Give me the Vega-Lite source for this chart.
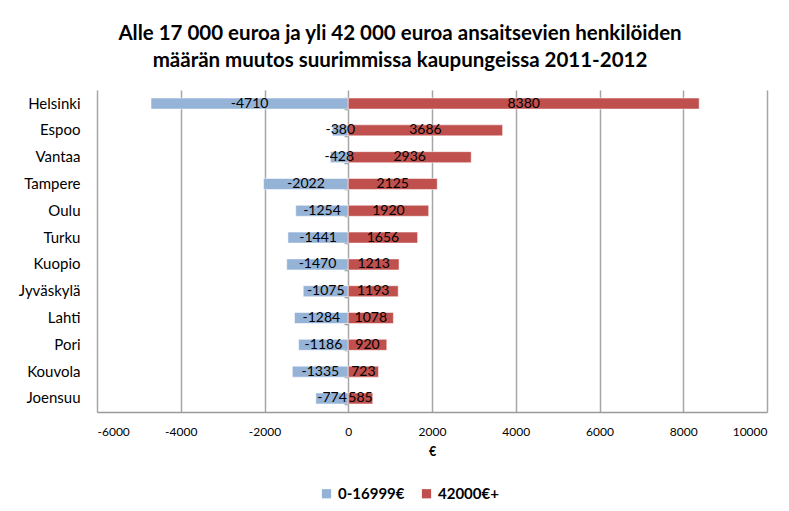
{
  "$schema": "https://vega.github.io/schema/vega-lite/v6.json",
  "width": 670,
  "height": 322,
  "autosize": {"type": "none"},
  "padding": {"left": 97, "top": 90, "right": 22, "bottom": 99},
  "background": "white",
  "config": {
    "font": "Lato",
    "view": {"stroke": null},
    "locale": {
      "number": {"decimal": ".", "thousands": "", "grouping": [3], "currency": ["", "€"], "minus": "-"}
    }
  },
  "title": {
    "text": ["Alle 17 000 euroa ja yli 42 000 euroa ansaitsevien  henkilöiden", "määrän muutos  suurimmissa  kaupungeissa  2011-2012"],
    "font": "Lato",
    "fontSize": 20.5,
    "fontWeight": "bold",
    "color": "#000000",
    "anchor": "middle",
    "dx": -32,
    "offset": 19,
    "lineHeight": 27
  },
  "data": {
    "values": [
      {"city": "Helsinki", "series": "0-16999€", "value": -4710},
      {"city": "Helsinki", "series": "42000€+", "value": 8380},
      {"city": "Espoo", "series": "0-16999€", "value": -380},
      {"city": "Espoo", "series": "42000€+", "value": 3686},
      {"city": "Vantaa", "series": "0-16999€", "value": -428},
      {"city": "Vantaa", "series": "42000€+", "value": 2936},
      {"city": "Tampere", "series": "0-16999€", "value": -2022},
      {"city": "Tampere", "series": "42000€+", "value": 2125},
      {"city": "Oulu", "series": "0-16999€", "value": -1254},
      {"city": "Oulu", "series": "42000€+", "value": 1920},
      {"city": "Turku", "series": "0-16999€", "value": -1441},
      {"city": "Turku", "series": "42000€+", "value": 1656},
      {"city": "Kuopio", "series": "0-16999€", "value": -1470},
      {"city": "Kuopio", "series": "42000€+", "value": 1213},
      {"city": "Jyväskylä", "series": "0-16999€", "value": -1075},
      {"city": "Jyväskylä", "series": "42000€+", "value": 1193},
      {"city": "Lahti", "series": "0-16999€", "value": -1284},
      {"city": "Lahti", "series": "42000€+", "value": 1078},
      {"city": "Pori", "series": "0-16999€", "value": -1186},
      {"city": "Pori", "series": "42000€+", "value": 920},
      {"city": "Kouvola", "series": "0-16999€", "value": -1335},
      {"city": "Kouvola", "series": "42000€+", "value": 723},
      {"city": "Joensuu", "series": "0-16999€", "value": -774},
      {"city": "Joensuu", "series": "42000€+", "value": 585}
    ]
  },
  "transform": [{"calculate": "datum.value / 2", "as": "mid"}],
  "layer": [
    {
      "mark": {"type": "bar", "stroke": "#ffffff", "strokeOpacity": 0.5, "strokeWidth": 1},
      "encoding": {
        "y": {
          "field": "city",
          "type": "nominal",
          "sort": null,
          "scale": {"paddingInner": 0.59, "paddingOuter": 0.3},
          "axis": {
            "orient": "left",
            "title": null,
            "domain": false,
            "ticks": false,
            "labelFontSize": 15,
            "labelColor": "#000000",
            "labelPadding": 17
          }
        },
        "x": {
          "field": "value",
          "type": "quantitative",
          "scale": {"domain": [-6000, 10000], "nice": false},
          "axis": {
            "values": [-6000, -4000, -2000, 0, 2000, 4000, 6000, 8000, 10000],
            "format": "d",
            "title": "€",
            "titleFontSize": 12.5,
            "titleFontWeight": "bold",
            "titleColor": "#000000",
            "titlePadding": 8,
            "labelFontSize": 12,
            "labelColor": "#000000",
            "labelPadding": 14,
            "ticks": false,
            "domainColor": "#9a9a9a",
            "domainWidth": 1.5,
            "grid": true,
            "gridColor": "#a6a6a6",
            "gridWidth": 1.5
          }
        },
        "color": {
          "field": "series",
          "type": "nominal",
          "scale": {"domain": ["0-16999€", "42000€+"], "range": ["#95b3d7", "#c0504d"]},
          "legend": {
            "orient": "none",
            "legendX": 222,
            "legendY": 396,
            "direction": "horizontal",
            "title": null,
            "symbolType": "square",
            "symbolSize": 85,
            "symbolStrokeWidth": 0,
            "labelFontSize": 15,
            "labelFontWeight": "bold",
            "labelColor": "#000000",
            "labelOffset": 4,
            "columnPadding": 14
          }
        }
      }
    },
    {
      "mark": {"type": "text", "fontSize": 14, "color": "#000000", "baseline": "middle", "align": "center"},
      "encoding": {
        "y": {
          "field": "city",
          "type": "nominal",
          "sort": null,
          "axis": {
            "orient": "left",
            "title": null,
            "labels": false,
            "domain": false,
            "ticks": true,
            "tickBand": "extent",
            "tickSize": 4,
            "tickColor": "#9a9a9a",
            "tickWidth": 1.5,
            "offset": -251
          }
        },
        "x": {"field": "mid", "type": "quantitative"},
        "text": {"field": "value", "type": "quantitative", "format": "d"}
      }
    }
  ],
  "resolve": {"axis": {"y": "independent"}}
}
